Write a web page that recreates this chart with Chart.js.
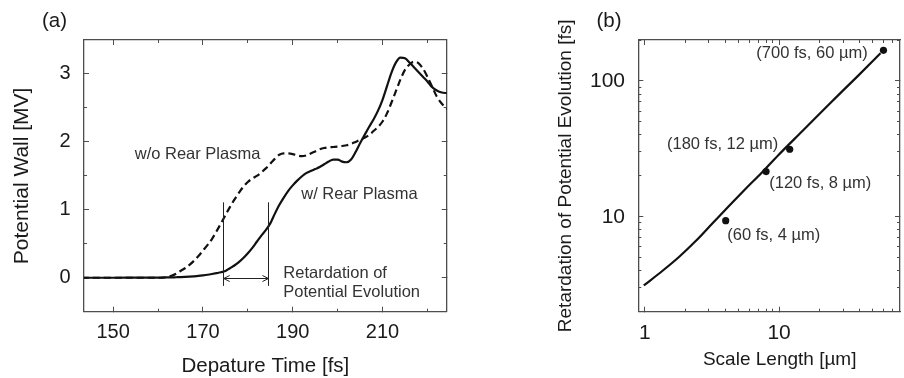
<!DOCTYPE html>
<html><head><meta charset="utf-8">
<script src="https://cdn.jsdelivr.net/npm/chart.js@4.4.1/dist/chart.umd.min.js"></script>
<style>
html,body{margin:0;padding:0;background:#fff;}
#wrap{position:relative;width:904px;height:378px;overflow:hidden;background:#fff;}
#ca{position:absolute;left:0;top:0;}
#cb{position:absolute;left:460px;top:0;}
</style></head><body>
<div id="wrap"><canvas id="ca" width="460" height="378"></canvas><canvas id="cb" width="444" height="378"></canvas></div>
<script>
// ---------- Panel (a) data ----------
const departureTime = [143,150,155,160,161,162,163,164,165,166,167,168,169,170,171,172,173,174,175,176,177,178,179,180,181,182,183,184,185,186,187,188,189,190,191,192,193,194,195,196,197,198,199,200,201,202,203,204,205,206,207,208,209,210,211,212,213,214,215,216,217,218,219,220,221,222,223,224,225];
const wallWithRear = [0,0,0.001,
  0.002,0.003,0.004,0.005,0.007,0.009,0.012,0.016,0.021,0.027,
  0.035,0.044,0.055,0.067,0.08,0.10,0.14,0.18,0.23,0.29,
  0.36,0.44,0.53,0.62,0.70,0.80,0.94,1.07,1.18,1.28,
  1.36,1.43,1.49,1.54,1.57,1.60,1.63,1.67,1.71,1.74,
  1.74,1.71,1.70,1.74,1.85,1.98,2.10,2.22,2.33,2.46,
  2.62,2.82,3.02,3.17,3.24,3.23,3.17,3.10,3.03,2.96,
  2.89,2.81,2.76,2.73,2.72,2.72];
const wallWithoutRear = [0,0,0,
  0,0.003,0.01,0.03,0.06,0.10,0.14,0.19,0.25,0.32,
  0.40,0.48,0.57,0.68,0.80,0.92,1.04,1.15,1.25,1.34,
  1.41,1.46,1.50,1.55,1.61,1.68,1.75,1.81,1.83,1.83,
  1.82,1.80,1.79,1.80,1.83,1.86,1.89,1.91,1.92,1.925,
  1.93,1.94,1.95,1.97,2.00,2.03,2.06,2.10,2.16,2.22,
  2.30,2.42,2.58,2.75,2.92,3.06,3.14,3.18,3.16,3.08,
  2.96,2.82,2.68,2.58,2.51,2.46];
const timeMajorTicks = [150,170,190,210];
const timeMinorTicks = [160,180,200,220];
const wallMajorTicks = [0,1,2,3];
const wallMinorTicks = [0.5,1.5,2.5];
const timeRange = [143.5, 224.3];
const wallRange = [-0.5, 3.5];
const retardBounds = [174.4, 184.6];
const retardSpan = [-0.12, 1.11];
const arrowLevel = 0;
const labelTextsA = ['w/o Rear Plasma','w/ Rear Plasma','Retardation of','Potential Evolution'];
const labelXA = [154.8, 191.9, 187.9, 187.9];
const labelYA = [1.81, 1.23, 0.063, -0.21];

// ---------- Panel (b) data ----------
const curveScale = [0.98, 1.36, 1.81, 2.4, 3.19, 4.23, 5.61, 7.45, 9.9, 15, 23.1, 38.4, 57];
const curveRetard = [3.12, 4.02, 5.1, 6.65, 8.95, 12.0, 16.0, 21.2, 28.5, 43, 66, 108, 160];
const pointScale = [4, 8, 12, 60];
const pointRetard = [9.35, 21.5, 31.4, 168];
const pointLabels = ['(60 fs, 4 µm)','(120 fs, 8 µm)','(180 fs, 12 µm)','(700 fs, 60 µm)'];
const pointLabelX = [4.11, 8.44, 1.46, 6.77];
const pointLabelY = [7.33, 17.6, 34.3, 158];
const scaleMajorTicks = [1, 10];
const scaleMinorTicks = [2,3,4,5,6,7,8,9,20,30,40,50,60,70];
const retardMajorTicks = [10, 100];
const retardMinorTicks = [2,3,4,5,6,7,8,9,20,30,40,50,60,70,80,90,200];
const scaleRange = [0.892, 79.7];
const retardRange = [2, 200];

// ---------- helpers ----------
const FONT = '"Liberation Sans", Arial, Helvetica, sans-serif';
const frameColor = '#4d4d4d';
const textColor = '#1a1a1a';

function mkAxis(o) {
  return {
    type: o.type || 'linear',
    position: o.position,
    min: o.range[0], max: o.range[1],
    weight: o.major ? 1 : 0,
    afterBuildTicks: s => { s.ticks = o.ticks.map(v => ({value: v})); },
    afterFit: s => { if (s.isHorizontal()) s.height = o.size; else s.width = o.size; },
    border: {display: !!o.major, color: frameColor, width: 1.3},
    grid: {drawOnChartArea: false, drawTicks: true, tickLength: o.major ? -5 : -3, tickColor: frameColor, tickWidth: 1},
    ticks: {display: !!o.labels, font: {family: FONT, size: o.fontSize || 20}, color: textColor,
            padding: o.pad || 0, autoSkip: false, maxRotation: 0, minRotation: 0,
            callback: v => String(v)},
    title: o.title ? {display: true, text: o.title, color: textColor,
            font: {family: FONT, size: o.titleSize}, padding: o.titlePad} : {display: false}
  };
}

const panelLabel = {
  id: 'panelLabel',
  afterDraw(chart, args, opts) {
    const ctx = chart.ctx;
    ctx.save();
    ctx.fillStyle = textColor;
    ctx.font = '20.5px ' + FONT;
    ctx.textAlign = 'left'; ctx.textBaseline = 'middle';
    ctx.fillText(opts.text, opts.left, opts.top);
    ctx.restore();
  }
};

// ---------- Chart (a) ----------
const annotA = {
  id: 'annotA',
  afterDatasetsDraw(chart) {
    const {ctx, scales: {x, y}} = chart;
    ctx.save();
    ctx.strokeStyle = '#222'; ctx.lineWidth = 1;
    retardBounds.forEach(t => {
      const px = Math.round(x.getPixelForValue(t)) + 0.5;
      ctx.beginPath();
      ctx.moveTo(px, y.getPixelForValue(retardSpan[0]));
      ctx.lineTo(px, y.getPixelForValue(retardSpan[1]));
      ctx.stroke();
    });
    const ay = Math.round(y.getPixelForValue(arrowLevel)) + 0.5;
    const a1 = x.getPixelForValue(retardBounds[0]) + 1, a2 = x.getPixelForValue(retardBounds[1]);
    ctx.beginPath();
    ctx.moveTo(a1, ay); ctx.lineTo(a2, ay);
    ctx.moveTo(a1 + 6, ay - 3); ctx.lineTo(a1, ay); ctx.lineTo(a1 + 6, ay + 3);
    ctx.moveTo(a2 - 6, ay - 3); ctx.lineTo(a2, ay); ctx.lineTo(a2 - 6, ay + 3);
    ctx.stroke();
    ctx.fillStyle = '#333';
    ctx.font = '16.5px ' + FONT;
    ctx.textAlign = 'left'; ctx.textBaseline = 'middle';
    labelTextsA.forEach((txt, i) => ctx.fillText(txt, x.getPixelForValue(labelXA[i]), y.getPixelForValue(labelYA[i])));
    ctx.restore();
  }
};

new Chart(document.getElementById('ca'), {
  type: 'line',
  data: {
    datasets: [
      {label: 'w/ Rear Plasma', data: departureTime.map((t, i) => ({x: t, y: wallWithRear[i]})),
       borderColor: '#111', borderWidth: 2.2, pointRadius: 0, cubicInterpolationMode: 'monotone', fill: false},
      {label: 'w/o Rear Plasma', data: departureTime.map((t, i) => ({x: t, y: wallWithoutRear[i]})),
       borderColor: '#111', borderWidth: 2.2, borderDash: [7, 4], pointRadius: 0, cubicInterpolationMode: 'monotone', fill: false}
    ]
  },
  options: {
    responsive: false, animation: false,
    layout: {padding: {top: 40, right: 13.3, bottom: 0, left: 0}},
    plugins: {legend: {display: false}, tooltip: {enabled: false},
              panelLabel: {text: '(a)', left: 42, top: 21.7}},
    scales: {
      x: mkAxis({position: 'bottom', range: timeRange, ticks: timeMajorTicks, major: true, labels: true, size: 66.3, pad: 14,
                 title: 'Depature Time [fs]', titleSize: 20.5, titlePad: {top: 0, bottom: -0.5}}),
      xMinor: mkAxis({position: 'bottom', range: timeRange, ticks: timeMinorTicks, size: 0}),
      xTop: mkAxis({position: 'top', range: timeRange, ticks: timeMajorTicks, major: true, size: 0}),
      xTopMinor: mkAxis({position: 'top', range: timeRange, ticks: timeMinorTicks, size: 0}),
      y: mkAxis({position: 'left', range: wallRange, ticks: wallMajorTicks, major: true, labels: true, size: 84, pad: 18.3,
                 title: 'Potential Wall [MV]', titleSize: 21, titlePad: {top: 9.5, bottom: 0}}),
      yMinor: mkAxis({position: 'left', range: wallRange, ticks: wallMinorTicks, size: 0}),
      yRight: mkAxis({position: 'right', range: wallRange, ticks: wallMajorTicks, major: true, size: 0}),
      yRightMinor: mkAxis({position: 'right', range: wallRange, ticks: wallMinorTicks, size: 0})
    }
  },
  plugins: [annotA, panelLabel]
});

// ---------- Chart (b) ----------
const annotB = {
  id: 'annotB',
  afterDatasetsDraw(chart) {
    const {ctx, scales: {x, y}} = chart;
    ctx.save();
    ctx.fillStyle = '#333';
    ctx.font = '16.5px ' + FONT;
    ctx.textAlign = 'left'; ctx.textBaseline = 'middle';
    pointLabels.forEach((txt, i) => ctx.fillText(txt, x.getPixelForValue(pointLabelX[i]), y.getPixelForValue(pointLabelY[i])));
    ctx.restore();
  }
};

new Chart(document.getElementById('cb'), {
  type: 'line',
  data: {
    datasets: [
      {label: 'fit', data: curveScale.map((s, i) => ({x: s, y: curveRetard[i]})),
       borderColor: '#111', borderWidth: 2.2, pointRadius: 0, cubicInterpolationMode: 'monotone', fill: false},
      {label: 'data', data: pointScale.map((s, i) => ({x: s, y: pointRetard[i]})),
       showLine: false, pointRadius: 3.6, pointBackgroundColor: '#111', pointBorderColor: '#111', pointBorderWidth: 0}
    ]
  },
  options: {
    responsive: false, animation: false,
    layout: {padding: {top: 40, right: 0.7, bottom: 0, left: 0}},
    plugins: {legend: {display: false}, tooltip: {enabled: false},
              panelLabel: {text: '(b)', left: 136.5, top: 21.7}},
    scales: {
      x: mkAxis({type: 'logarithmic', position: 'bottom', range: scaleRange, ticks: scaleMajorTicks, major: true, labels: true, size: 66.3, pad: 14, fontSize: 21,
                 title: '    Scale Length [µm]', titleSize: 19, titlePad: {top: 0, bottom: 6.6}}),
      xMinor: mkAxis({type: 'logarithmic', position: 'bottom', range: scaleRange, ticks: scaleMinorTicks, size: 0}),
      xTop: mkAxis({type: 'logarithmic', position: 'top', range: scaleRange, ticks: scaleMajorTicks, major: true, size: 0}),
      xTopMinor: mkAxis({type: 'logarithmic', position: 'top', range: scaleRange, ticks: scaleMinorTicks, size: 0}),
      y: mkAxis({type: 'logarithmic', position: 'left', range: retardRange, ticks: retardMajorTicks, major: true, labels: true, size: 178.3, pad: 18.3, fontSize: 21,
                 title: 'Retardation of Potential Evolution [fs]', titleSize: 19, titlePad: {top: 94.6, bottom: 0}}),
      yMinor: mkAxis({type: 'logarithmic', position: 'left', range: retardRange, ticks: retardMinorTicks, size: 0}),
      yRight: mkAxis({type: 'logarithmic', position: 'right', range: retardRange, ticks: retardMajorTicks, major: true, size: 0}),
      yRightMinor: mkAxis({type: 'logarithmic', position: 'right', range: retardRange, ticks: retardMinorTicks, size: 0})
    }
  },
  plugins: [annotB, panelLabel]
});
</script>
</body></html>
